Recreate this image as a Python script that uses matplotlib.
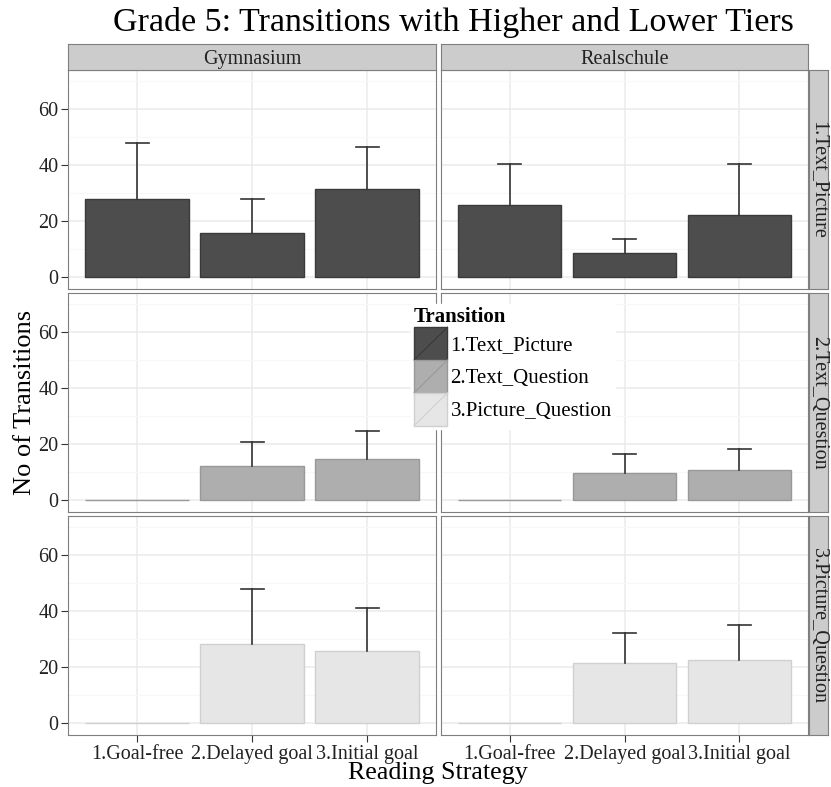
import matplotlib.pyplot as plt
from matplotlib.patches import Rectangle
from matplotlib.lines import Line2D
from matplotlib.legend_handler import HandlerBase

plt.rcParams['font.family'] = ['Liberation Serif', 'DejaVu Serif']

strategies = ['1.Goal-free', '2.Delayed goal', '3.Initial goal']
schools = ['Gymnasium', 'Realschule']
transitions = ['1.Text_Picture', '2.Text_Question', '3.Picture_Question']
fills = ['#4D4D4D', '#AEAEAE', '#E6E6E6']
edges = ['#3A3A3A', '#999999', '#D0D0D0']

# means[transition][school] -> values per strategy
means = {
    '1.Text_Picture': {'Gymnasium': [27.9, 15.7, 31.4], 'Realschule': [25.7, 8.6, 22.1]},
    '2.Text_Question': {'Gymnasium': [0, 12.1, 14.6], 'Realschule': [0, 9.6, 10.7]},
    '3.Picture_Question': {'Gymnasium': [0, 28.2, 25.7], 'Realschule': [0, 21.4, 22.5]},
}
upper = {
    '1.Text_Picture': {'Gymnasium': [47.9, 27.9, 46.4], 'Realschule': [40.4, 13.6, 40.4]},
    '2.Text_Question': {'Gymnasium': [0, 20.7, 24.6], 'Realschule': [0, 16.4, 18.2]},
    '3.Picture_Question': {'Gymnasium': [0, 47.9, 41.1], 'Realschule': [0, 32.1, 35.0]},
}

W, H = 831, 787
fig = plt.figure(figsize=(W / 100, H / 100), dpi=100)


def frac(x0, y0, x1, y1):
    return [x0 / W, 1 - y1 / H, (x1 - x0) / W, (y1 - y0) / H]


cols = [(68, 436), (441, 808)]
rows = [(70, 289), (293, 512), (516, 735)]
border = '#7F7F7F'

for r, tr in enumerate(transitions):
    for c, sc in enumerate(schools):
        ax = fig.add_axes(frac(cols[c][0], rows[r][0], cols[c][1], rows[r][1]))
        xs = range(1, 4)
        vals = means[tr][sc]
        ax.bar(xs, vals, width=0.9, color=fills[r], edgecolor=edges[r], linewidth=1, zorder=3)
        for x, v, u in zip(xs, vals, upper[tr][sc]):
            if u > v:
                ax.plot([x, x], [v, u], color='#333333', lw=1.2, zorder=4)
                ax.plot([x - 0.1, x + 0.1], [u, u], color='#333333', lw=1.2, zorder=4)
        ax.set_xlim(0.4, 3.6)
        ax.set_ylim(-4.3, 73.9)
        ax.set_yticks([0, 20, 40, 60])
        ax.set_yticks([10, 30, 50, 70], minor=True)
        ax.set_xticks(list(xs))
        ax.grid(which='major', color='#EBEBEB', lw=1.1, zorder=0)
        ax.grid(which='minor', axis='y', color='#F7F7F7', lw=0.8, zorder=0)
        ax.set_axisbelow(True)
        for s in ax.spines.values():
            s.set_color(border)
        ax.tick_params(which='minor', length=0)
        ax.tick_params(which='major', color='#333333', length=5, labelsize=14.5,
                       labelcolor='#222222', pad=2)
        if r < 2:
            ax.tick_params(axis='x', labelbottom=False, length=0)
        else:
            ax.set_xticklabels(strategies)
        if c == 1:
            ax.tick_params(axis='y', labelleft=False, length=0)

        if r == 0:
            sax = fig.add_axes(frac(cols[c][0], 44, cols[c][1], 70))
            sax.set_facecolor('#CCCCCC')
            sax.set_xticks([]); sax.set_yticks([])
            for s in sax.spines.values():
                s.set_color(border)
            sax.text(0.5, 0.42, sc, ha='center', va='center', fontsize=14.5, color='#222222',
                     transform=sax.transAxes)
        if c == 1:
            sax = fig.add_axes(frac(809, rows[r][0], 828, rows[r][1]))
            sax.set_facecolor('#CCCCCC')
            sax.set_xticks([]); sax.set_yticks([])
            for s in sax.spines.values():
                s.set_color(border)
            sax.text(0.5, 0.5, tr, ha='center', va='center', fontsize=14.5, rotation=-90,
                     color='#222222', transform=sax.transAxes)


class SlashHandler(HandlerBase):
    def create_artists(self, legend, orig, xd, yd, width, height, fontsize, trans):
        rect = Rectangle((-xd, -yd), width, height, facecolor=orig.get_facecolor(),
                         edgecolor=orig.get_edgecolor(), lw=1, transform=trans)
        line = Line2D([-xd, -xd + width], [-yd, -yd + height], color=orig.get_edgecolor(),
                      lw=0.8, transform=trans)
        return [rect, line]


handles = [Rectangle((0, 0), 1, 1, facecolor=f, edgecolor=e) for f, e in zip(fills, edges)]
leg = fig.legend(handles, transitions, loc='upper left', bbox_to_anchor=(411 / W, 1 - 304 / H),
                 handler_map={Rectangle: SlashHandler()}, title='Transition', fontsize=15,
                 title_fontproperties={'weight': 'bold', 'size': 15}, frameon=True,
                 fancybox=False, edgecolor='white', framealpha=1, handlelength=1.6,
                 handleheight=2.05, labelspacing=0.0, handletextpad=0.15, borderpad=0.15,
                 borderaxespad=0)
leg._legend_box.align = 'left'

fig.text(453 / W, 1 - 22 / H, 'Grade 5: Transitions with Higher and Lower Tiers',
         ha='center', va='center', fontsize=24.5)
fig.text(438 / W, 1 - 773 / H, 'Reading Strategy', ha='center', va='center', fontsize=18.7)
fig.text(25 / W, 1 - 402 / H, 'No of Transitions', ha='center', va='center', fontsize=19,
         rotation=90)

fig.savefig('out.png', dpi=100, facecolor='white')
